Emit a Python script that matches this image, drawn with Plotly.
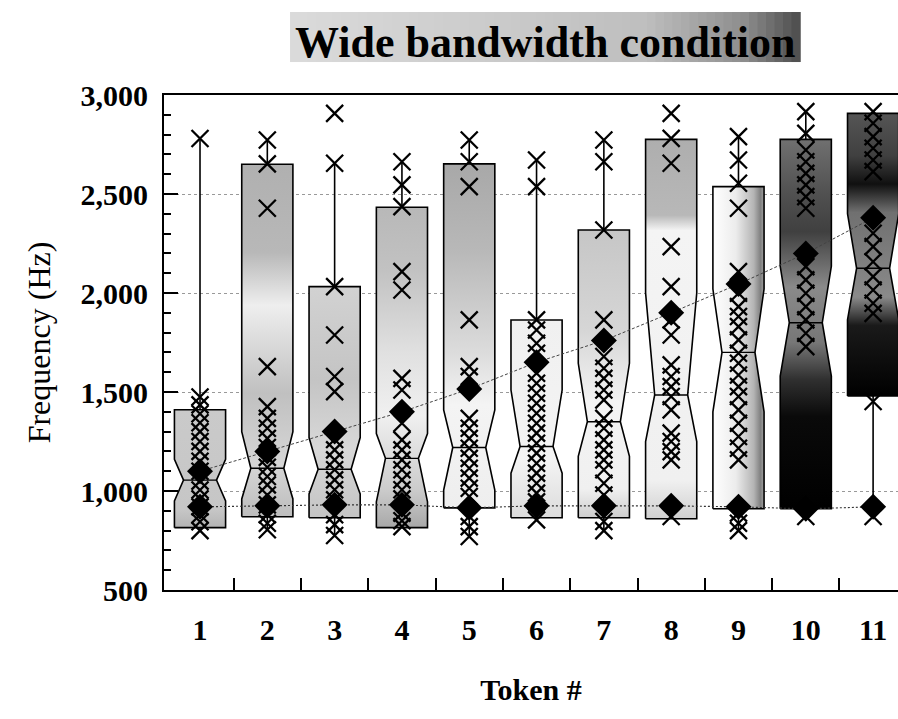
import plotly.graph_objects as go

# ---------------- data ----------------
tokens = list(range(1, 12))
tick_labels = [str(t) for t in tokens]
y_ticks = [500, 1000, 1500, 2000, 2500, 3000]

q1 = [815, 870, 865, 815, 915, 865, 865, 860, 910, 910, 1480]
median = [1055, 1115, 1110, 1165, 1220, 1225, 1350, 1485, 1700, 1850, 2125]
q3 = [1410, 2650, 2032, 2433, 2652, 1864, 2318, 2776, 2537, 2776, 2907]
notch_lo = [950, 960, 985, 945, 1005, 1090, 1175, 1250, 1400, 1580, 1865]
notch_hi = [1160, 1300, 1270, 1290, 1410, 1510, 1645, 2000, 2020, 2135, 2400]
whisker_lo = [800, 804, 775, 820, 770, 854, 800, 860, 800, 871, 871]
whisker_hi = [2780, 2773, 2655, 2663, 2773, 2672, 2773, 2776, 2790, 2916, 2907]
means = [1100, 1200, 1300, 1400, 1515, 1650, 1760, 1900, 2045, 2200, 2380]
lower_marks = [920, 925, 930, 930, 915, 925, 925, 925, 920, 910, 920]

points = [
    [2780, 1475, 1435, 1390, 1345, 1300, 1250, 1200, 1150, 1100, 1050, 1005, 960, 920, 880, 845, 800],
    [2773, 2652, 2428, 1628, 1426, 1367, 1317, 1266, 1220, 1170, 1120, 1073, 1031, 980, 930, 880, 837, 804],
    [2907, 2655, 2032, 1788, 1578, 1502, 1260, 1208, 1157, 1107, 1056, 1006, 955, 880, 830, 775],
    [2663, 2546, 2436, 2108, 2015, 1569, 1510, 1342, 1258, 1208, 1157, 1107, 1056, 1006, 960, 888, 850, 820],
    [2773, 2663, 2537, 1864, 1628, 1578, 1367, 1317, 1266, 1216, 1165, 1115, 1065, 1014, 972, 871, 820, 770],
    [2672, 2537, 1864, 1813, 1746, 1696, 1595, 1544, 1494, 1443, 1393, 1342, 1292, 1241, 1191, 1140, 1090, 1039, 989, 945, 854],
    [2773, 2663, 2318, 1864, 1679, 1620, 1569, 1510, 1460, 1367, 1317, 1258, 1208, 1157, 1107, 1039, 980, 846, 800],
    [2907, 2781, 2655, 2234, 2032, 1864, 1788, 1637, 1578, 1527, 1477, 1410, 1292, 1250, 1199, 1157, 871],
    [2790, 2672, 2554, 2428, 2108, 1999, 1931, 1881, 1830, 1763, 1696, 1645, 1586, 1527, 1477, 1410, 1342, 1275, 1216, 1157, 888, 837, 800],
    [2916, 2806, 2722, 2663, 2604, 2546, 2487, 2428, 2133, 2066, 1999, 1931, 1864, 1797, 1729, 871],
    [3042, 2916, 2857, 2790, 2731, 2672, 2613, 2302, 2234, 2158, 2083, 2015, 1948, 1897, 1452, 871],
]

# ---------------- styles ----------------
SERIF = "Liberation Serif"
HALF_W = 0.38      # half box width (category units)
HALF_N = 0.245     # half width at the notch waist

box_shading = [
    ("vertical", [[0, "#b4b4b4"], [0.15, "#c6c6c6"], [1, "#cacaca"]]),
    ("vertical", [[0, "#bdbdbd"], [0.15, "#d6d6d6"], [0.35, "#c0c0c0"], [0.6, "#eeeeee"], [0.75, "#b8b8b8"], [1, "#b0b0b0"]]),
    ("vertical", [[0, "#c4c4c4"], [0.3, "#d8d8d8"], [0.6, "#c4c4c4"], [1, "#d2d2d2"]]),
    ("vertical", [[0, "#a8a8a8"], [0.12, "#cccccc"], [0.35, "#f0f0f0"], [0.55, "#e0e0e0"], [0.8, "#c2c2c2"], [1, "#b8b8b8"]]),
    ("vertical", [[0, "#eeeeee"], [0.3, "#f4f4f4"], [0.45, "#dcdcdc"], [0.75, "#b8b8b8"], [1, "#a8a8a8"]]),
    ("vertical", [[0, "#dcdcdc"], [0.3, "#f4f4f4"], [1, "#f0f0f0"]]),
    ("vertical", [[0, "#cecece"], [0.1, "#f0f0f0"], [0.4, "#f4f4f4"], [0.65, "#d6d6d6"], [1, "#c6c6c6"]]),
    ("vertical", [[0, "#cfcfcf"], [0.1, "#f0f0f0"], [0.76, "#f4f4f4"], [0.8, "#b8b8b8"], [1, "#aeaeae"]]),
    ("horizontal", [[0, "#ffffff"], [0.45, "#ececec"], [0.8, "#b4b4b4"], [0.93, "#808080"], [1, "#a0a0a0"]]),
    ("vertical", [[0, "#000000"], [0.25, "#0a0a0a"], [0.35, "#303030"], [0.45, "#777777"], [0.6, "#8a8a8a"], [0.75, "#404040"], [0.85, "#505050"], [1, "#707070"]]),
    ("vertical", [[0, "#000000"], [0.25, "#1a1a1a"], [0.35, "#8a8a8a"], [0.65, "#707070"], [0.75, "#101010"], [0.85, "#404040"], [1, "#555555"]]),
]

fig = go.Figure()

# notched boxes
for i, t in enumerate(tokens):
    lo_n = max(notch_lo[i], q1[i])
    hi_n = min(notch_hi[i], q3[i])
    xs = [t - HALF_W, t - HALF_W, t - HALF_N, t - HALF_W, t - HALF_W,
          t + HALF_W, t + HALF_W, t + HALF_N, t + HALF_W, t + HALF_W, t - HALF_W]
    ys = [q1[i], lo_n, median[i], hi_n, q3[i],
          q3[i], hi_n, median[i], lo_n, q1[i], q1[i]]
    gtype, cscale = box_shading[i]
    if gtype == "vertical":
        grad = dict(type="vertical", colorscale=cscale, start=q1[i], stop=q3[i])
    else:
        grad = dict(type="horizontal", colorscale=cscale, start=t - HALF_W, stop=t + HALF_W)
    fig.add_trace(go.Scatter(
        x=xs, y=ys, mode="lines", fill="toself", fillgradient=grad,
        line=dict(color="black", width=1.6), hoverinfo="skip", showlegend=False))
    # median line
    fig.add_trace(go.Scatter(
        x=[t - HALF_N, t + HALF_N], y=[median[i], median[i]], mode="lines",
        line=dict(color="black", width=1.4), hoverinfo="skip", showlegend=False))
    # whiskers
    fig.add_trace(go.Scatter(
        x=[t, t, None, t, t], y=[q3[i], whisker_hi[i], None, q1[i], whisker_lo[i]],
        mode="lines", line=dict(color="black", width=1.6),
        hoverinfo="skip", showlegend=False))

# lower reference line and marks
fig.add_trace(go.Scatter(
    x=tokens, y=lower_marks, mode="lines",
    line=dict(color="#333333", width=1.1, dash="2px,2px"),
    hoverinfo="skip", showlegend=False))

# individual values (those inside the axis range, then any above it unclipped)
px, py, ox, oy = [], [], [], []
for t, vals in zip(tokens, points):
    for v in vals:
        if v <= 3000:
            px.append(t)
            py.append(v)
        else:
            ox.append(t)
            oy.append(v)
xmark = dict(symbol="x-thin", size=17, line=dict(color="black", width=2.3))
fig.add_trace(go.Scatter(x=px, y=py, mode="markers", marker=xmark, showlegend=False))
fig.add_trace(go.Scatter(x=ox, y=oy, mode="markers", cliponaxis=False,
                         marker=xmark, showlegend=False))

# mean line
fig.add_trace(go.Scatter(
    x=tokens, y=means, mode="lines",
    line=dict(color="#444444", width=1.0, dash="3px,2px"),
    hoverinfo="skip", showlegend=False))

fig.add_trace(go.Scatter(
    x=tokens, y=lower_marks, mode="markers",
    marker=dict(symbol="diamond", size=20, color="black"), showlegend=False))
fig.add_trace(go.Scatter(
    x=tokens, y=means, mode="markers",
    marker=dict(symbol="diamond", size=20, color="black"), showlegend=False))

# title background (gradient bar)
n_strips = 60
x0p, x1p = 0.1717, 0.8665
for k in range(n_strips):
    f = k / (n_strips - 1)
    if f < 0.7:
        g = 218 - int(28 * f / 0.7)
    elif f < 0.9:
        g = 190 - int(50 * (f - 0.7) / 0.2)
    else:
        g = 140 - int(60 * (f - 0.9) / 0.1)
    c = f"rgb({g},{g},{g})"
    fig.add_shape(type="rect", xref="paper", yref="paper",
                  x0=x0p + (x1p - x0p) * k / n_strips,
                  x1=x0p + (x1p - x0p) * (k + 1) / n_strips + 0.001,
                  y0=1.0666, y1=1.1677, fillcolor=c, line=dict(width=0), layer="below")

fig.add_annotation(
    text="Wide bandwidth condition", xref="paper", yref="paper",
    x=0.519, y=1.107, xanchor="center", yanchor="middle", showarrow=False,
    font=dict(family=SERIF, size=44, color="black", weight="bold"))

fig.update_layout(
    width=898, height=719,
    margin=dict(l=164, r=0, t=95, b=129),
    paper_bgcolor="white", plot_bgcolor="white",
    showlegend=False,
    xaxis=dict(
        range=[0.465, 11.37], tickvals=tokens, ticktext=tick_labels,
        ticks="", showgrid=False, zeroline=False,
        showline=True, linecolor="black", linewidth=2, mirror=True,
        tickfont=dict(family=SERIF, size=30, color="black", weight="bold"),
        ticklabelstandoff=12,
        minor=dict(tickvals=[t + 0.5 for t in tokens[:-1]], ticks="inside",
                   ticklen=12, tickwidth=2, tickcolor="black", showgrid=False),
        title=dict(text="Token #", standoff=34,
                   font=dict(family=SERIF, size=30, color="black", weight="bold")),
    ),
    yaxis=dict(
        range=[500, 3000], tickvals=y_ticks, tickformat=",d",
        ticks="inside", ticklen=14, tickwidth=2, tickcolor="black",
        showline=True, linecolor="black", linewidth=2, zeroline=False,
        showgrid=True, gridcolor="#999999", griddash="dot", gridwidth=1,
        minor=dict(dtick=100, ticks="inside", ticklen=7, tickwidth=1.5,
                   tickcolor="black", showgrid=False),
        tickfont=dict(family=SERIF, size=30, color="black", weight="bold"),
        ticklabelstandoff=8,
        title=dict(text="Frequency (Hz)", standoff=20,
                   font=dict(family=SERIF, size=32, color="black")),
    ),
)

fig.write_html("out.html")
